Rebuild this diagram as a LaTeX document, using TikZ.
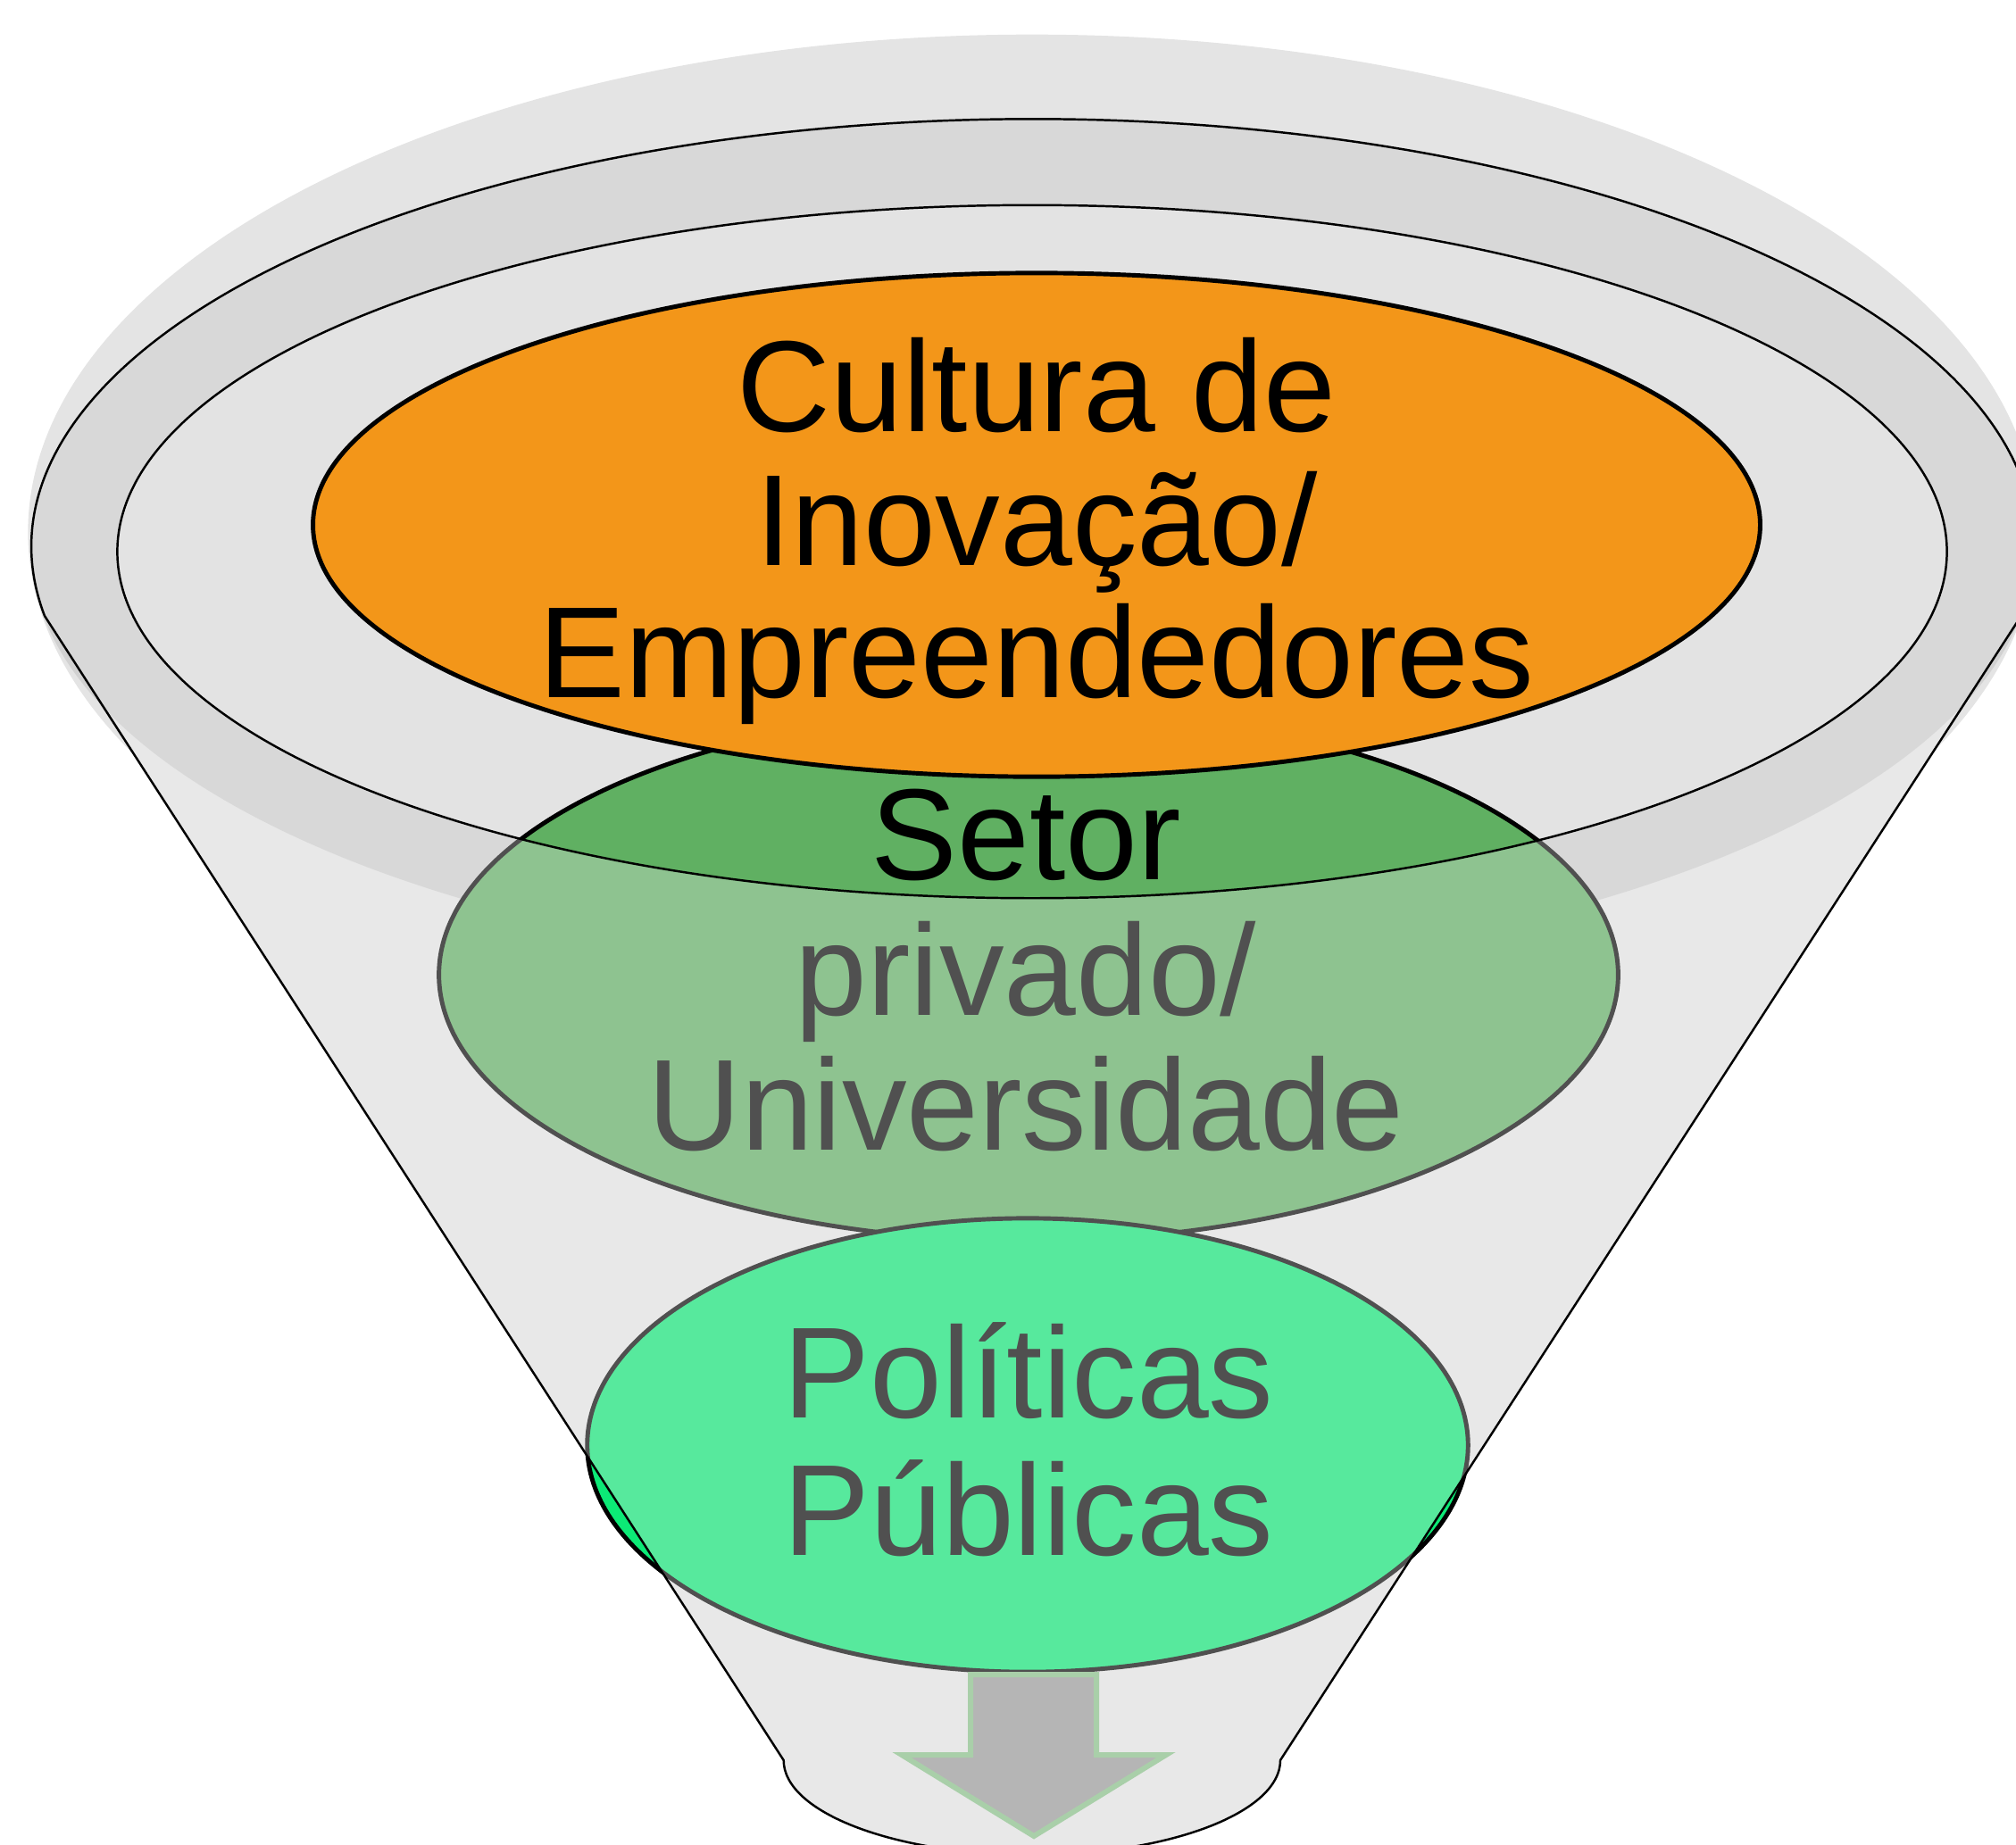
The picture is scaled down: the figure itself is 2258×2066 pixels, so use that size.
\documentclass[tikz,border=0pt]{standalone}
\usepackage{fontspec}
\setmainfont{Liberation Sans}
\usetikzlibrary{shapes.geometric}
\definecolor{halo}{HTML}{E4E4E4}
\definecolor{funnelbody}{HTML}{E8E8E8}
\definecolor{band}{HTML}{D1D1D1}
\definecolor{opening}{HTML}{E3E3E3}
\definecolor{orangefill}{HTML}{F39619}
\definecolor{greenfill}{HTML}{60B062}
\definecolor{mintfill}{HTML}{0CEA76}
\definecolor{arrowfill}{HTML}{B5B5B5}
\definecolor{arrowline}{HTML}{A9CFA9}
\begin{document}
\begin{tikzpicture}[x=0.01cm,y=0.01cm,
  blob/.style={ellipse, inner sep=0pt, outer sep=0pt, line width=1.4pt, draw=black},
  txt/.style={anchor=base, inner sep=0pt, font=\fontsize{41.3}{49}\selectfont},
  rimline/.style={draw=black, line width=0.7pt}]
\useasboundingbox (0,0) rectangle (2258,-2066);
% halo
\fill[halo] (1156,-596) ellipse [x radius=11.24cm, y radius=5.57cm];
% funnel body base
\fill[funnelbody] (50,-690) arc[start angle=189.3, end angle=-9.3, x radius=11.21cm, y radius=4.79cm]
  -- (1434,-1972) arc[start angle=0, end angle=-180, x radius=2.78cm, y radius=1.06cm] -- cycle;
% rim band and opening
\fill[band] (1156,-613) ellipse [x radius=11.21cm, y radius=4.79cm];
\fill[opening] (1156,-618) ellipse [x radius=10.24cm, y radius=3.88cm];
% ellipses
\node[blob, fill=greenfill, minimum width=13.2cm, minimum height=5.96cm] (setor) at (1152,-1092) {};
\node[blob, fill=orangefill, minimum width=16.2cm, minimum height=5.64cm] (cultura) at (1161,-588) {};
\node[blob, fill=mintfill, minimum width=9.86cm, minimum height=5.08cm] (politicas) at (1151,-1619) {};
% texts
\node[txt] (c1) at (1161,-483) {Cultura de};
\node[txt] (c2) at (1161,-633) {Inovação/};
\node[txt] (c3) at (1161,-781) {Empreendedores};
\node[txt] (s1) at (1149,-985) {Setor};
\node[txt] (s2) at (1149,-1137) {privado/};
\node[txt] (s3) at (1149,-1288) {Universidade};
\node[txt] (p1) at (1152,-1588) {Políticas};
\node[txt] (p2) at (1152,-1742) {Públicas};
% translucent front of the funnel
\fill[funnelbody, fill opacity=0.345, even odd rule]
  (50,-690) arc[start angle=189.3, end angle=-9.3, x radius=11.21cm, y radius=4.79cm]
  -- (1434,-1972) arc[start angle=0, end angle=-180, x radius=2.78cm, y radius=1.06cm] -- cycle
  (1156,-618) ellipse [x radius=10.24cm, y radius=3.88cm];
% outlines
\draw[rimline] (50,-690) arc[start angle=189.3, end angle=-9.3, x radius=11.21cm, y radius=4.79cm]
  -- (1434,-1972) arc[start angle=0, end angle=-180, x radius=2.78cm, y radius=1.06cm] -- cycle;
\draw[rimline] (1156,-618) ellipse [x radius=10.24cm, y radius=3.88cm];
% arrow
\draw[fill=arrowfill, draw=arrowline, line width=1.7pt]
  (1087,-1876) -- (1228,-1876) -- (1228,-1966) -- (1306,-1966) -- (1158,-2057)
  -- (1010,-1966) -- (1087,-1966) -- cycle;
\end{tikzpicture}
\end{document}
